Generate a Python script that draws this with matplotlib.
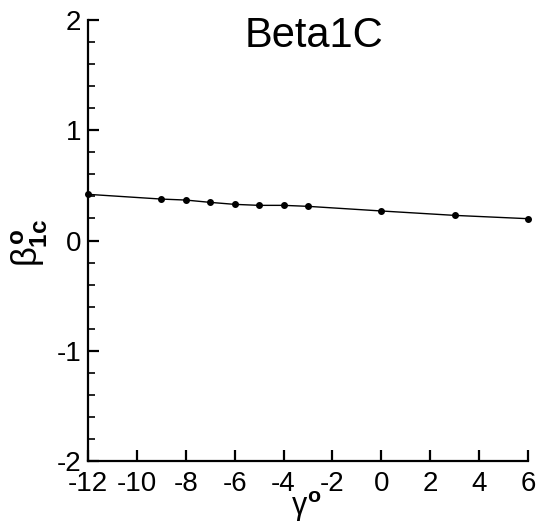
import matplotlib
matplotlib.use("Agg")
import matplotlib.pyplot as plt
from matplotlib.ticker import MultipleLocator

plt.rcParams['font.family'] = ['Liberation Sans', 'DejaVu Sans']
plt.rcParams['mathtext.fontset'] = 'custom'
plt.rcParams['mathtext.rm'] = 'Liberation Sans'
plt.rcParams['mathtext.it'] = 'Liberation Sans'
plt.rcParams['mathtext.bf'] = 'Liberation Sans:bold'

gamma = [-12, -9, -8, -7, -6, -5, -4, -3, 0, 3, 6]
beta1c = [0.419, 0.376, 0.367, 0.346, 0.328, 0.319, 0.319, 0.310, 0.268, 0.228, 0.198]
xticks = [-12, -10, -8, -6, -4, -2, 0, 2, 4, 6]
yticks = [-2, -1, 0, 1, 2]

fig = plt.figure(figsize=(5.38, 5.27), dpi=100)
ax = fig.add_axes([0.1636, 0.1252, 0.8178, 0.8368])
ax.plot(gamma, beta1c, color='black', lw=1.0, marker='o', markersize=4, clip_on=False, zorder=3)

ax.set_xlim(-12, 6)
ax.set_ylim(-2, 2)
ax.set_xticks(xticks)
ax.set_yticks(yticks)
ax.set_xticklabels([str(v) for v in xticks])
ax.set_yticklabels([str(v) for v in yticks])
ax.yaxis.set_minor_locator(MultipleLocator(0.2))

for s in ['top', 'right']:
    ax.spines[s].set_visible(False)
for s in ['left', 'bottom']:
    ax.spines[s].set_linewidth(1.6)

ax.tick_params(axis='both', which='major', direction='in', length=8, width=1.6,
               labelsize=20, pad=5)
ax.tick_params(axis='y', which='minor', direction='in', length=5, width=1.2)
ax.tick_params(axis='x', which='major', pad=7)

ax.set_xlabel(r'$\gamma^{\mathbf{o}}$', fontsize=22)
ax.xaxis.set_label_coords((306 - 88) / 440, -(507 - 461) / 441)
ax.xaxis.label.set_va('center')
ax.set_ylabel(r'$\beta_{\mathbf{1c}}^{\mathbf{o}}$', fontsize=25)
ax.yaxis.set_label_coords(-(88 - 30) / 440, (461 - 243) / 441)
ax.yaxis.label.set_va('center')

ax.text(0.514, 0.939, 'Beta1C', transform=ax.transAxes, ha='center', va='baseline',
        fontsize=30)

fig.savefig('out.png', dpi=100)
